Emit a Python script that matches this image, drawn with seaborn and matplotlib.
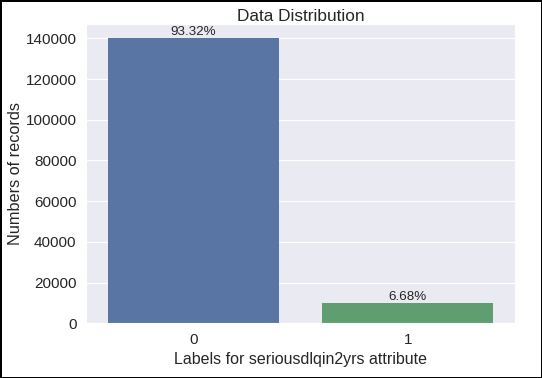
import pandas as pd
import matplotlib
matplotlib.use("Agg")
import matplotlib.pyplot as plt
import seaborn as sns

# Data
labels = ["0", "1"]
counts = [139974, 10026]
percents = ["93.32%", "6.68%"]

df = pd.DataFrame({"label": labels, "count": counts})

sns.set_style("darkgrid")
plt.rcParams["font.family"] = ["Liberation Sans", "DejaVu Sans"]

fig = plt.figure(figsize=(5.42, 3.78), dpi=100)
fig.patch.set_edgecolor("black")
fig.patch.set_linewidth(2)
ax = fig.add_axes([0.159, 0.145, 0.791, 0.791])

sns.barplot(x="label", y="count", data=df, hue="label",
            palette=["#4C72B0", "#55A868"], legend=False, linewidth=0, ax=ax)

for i, p in enumerate(ax.patches):
    ax.annotate(percents[i], (p.get_x() + p.get_width() / 2, p.get_height()),
                ha="center", va="bottom", fontsize=9.6, color=".15")

ax.set_title("Data Distribution", fontsize=12.4, color=".15", pad=2)
ax.set_xlabel("Labels for seriousdlqin2yrs attribute", fontsize=11.5, color=".15")
ax.set_ylabel("Numbers of records", fontsize=11.7, color=".15", labelpad=2)
ax.tick_params(labelsize=11, colors=".15")

fig.savefig("out.png", dpi=100, edgecolor=fig.get_edgecolor())
